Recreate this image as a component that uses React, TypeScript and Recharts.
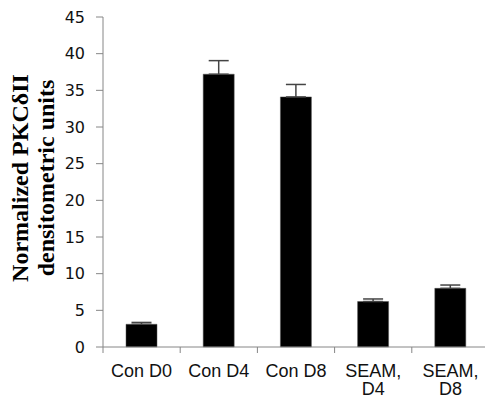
import React from "react";
import { BarChart, Bar, XAxis, YAxis, ErrorBar } from "recharts";

const categories = ["Con D0", "Con D4", "Con D8", "SEAM,\nD4", "SEAM,\nD8"];
const values = [3.1, 37.2, 34.1, 6.2, 8.0];
const errors = [0.25, 1.85, 1.7, 0.35, 0.45];
const yTicks = [0, 5, 10, 15, 20, 25, 30, 35, 40, 45];
const yLabelLines = ["Normalized PKC\u03B4II", "densitometric units"];

const data = categories.map((c, i) => ({
  name: c,
  value: values[i],
  err: [0, errors[i]],
}));

const AXIS = "#868686";
const TEXT = "#111";

const XTick = (props: any) => {
  const { x, y, payload, index } = props;
  const half = payload && payload.offset ? payload.offset : 38.6;
  const lines = String(payload.value).split("\n");
  return (
    <g>
      <line x1={x - half} y1={y - 8} x2={x - half} y2={y - 2} stroke={AXIS} strokeWidth={1} />
      {index === categories.length - 1 ? (
        <line x1={x + half} y1={y - 8} x2={x + half} y2={y - 2} stroke={AXIS} strokeWidth={1} />
      ) : null}
      <text
        x={x}
        y={y + 22}
        textAnchor="middle"
        fontFamily="Liberation Sans, Arial, sans-serif"
        fontSize={18}
        fill={TEXT}
      >
        {lines.map((l, i) => (
          <tspan key={i} x={x} dy={i === 0 ? 0 : 18}>
            {l}
          </tspan>
        ))}
      </text>
    </g>
  );
};

const YLabel = (props: any) => {
  const vb = props.viewBox || { x: 0, y: 17, width: 103, height: 330 };
  const cy = vb.y + vb.height / 2 - 4;
  const xs = [28, 54];
  return (
    <g>
      {yLabelLines.map((l, i) => (
        <text
          key={i}
          x={xs[i]}
          y={cy}
          transform={`rotate(-90 ${xs[i]} ${cy})`}
          textAnchor="middle"
          fontFamily="Liberation Serif, Times New Roman, serif"
          fontWeight="bold"
          fontSize={24}
          fill="#000"
        >
          {l}
        </text>
      ))}
    </g>
  );
};

export default function App() {
  return (
    <div
      style={{
        position: "absolute",
        left: 0,
        top: 0,
        width: 485,
        height: 398,
        overflow: "hidden",
        background: "#fff",
      }}
    >
      <BarChart
        width={490}
        height={398}
        data={data}
        margin={{ top: 17, right: 1, bottom: 0, left: 0 }}
        barSize={31}
      >
        <XAxis
          dataKey="name"
          stroke={AXIS}
          tickLine={false}
          tick={<XTick />}
          interval={0}
          height={51}
          axisLine={{ stroke: AXIS, strokeWidth: 1 }}
        />
        <YAxis
          domain={[0, 45]}
          ticks={yTicks}
          interval={0}
          width={103}
          tickSize={7}
          tickMargin={11}
          stroke={AXIS}
          axisLine={{ stroke: AXIS, strokeWidth: 1 }}
          tickLine={{ stroke: AXIS }}
          tick={{ fill: TEXT, fontSize: 16, fontFamily: "DejaVu Sans, Verdana, sans-serif" }}
          label={{ content: <YLabel /> } as any}
        />
        <Bar dataKey="value" fill="#000" stroke="#555" strokeWidth={0.5} isAnimationActive={false}>
          <ErrorBar dataKey="err" width={10} stroke="#444" strokeWidth={1.5} direction="y" />
        </Bar>
      </BarChart>
    </div>
  );
}
